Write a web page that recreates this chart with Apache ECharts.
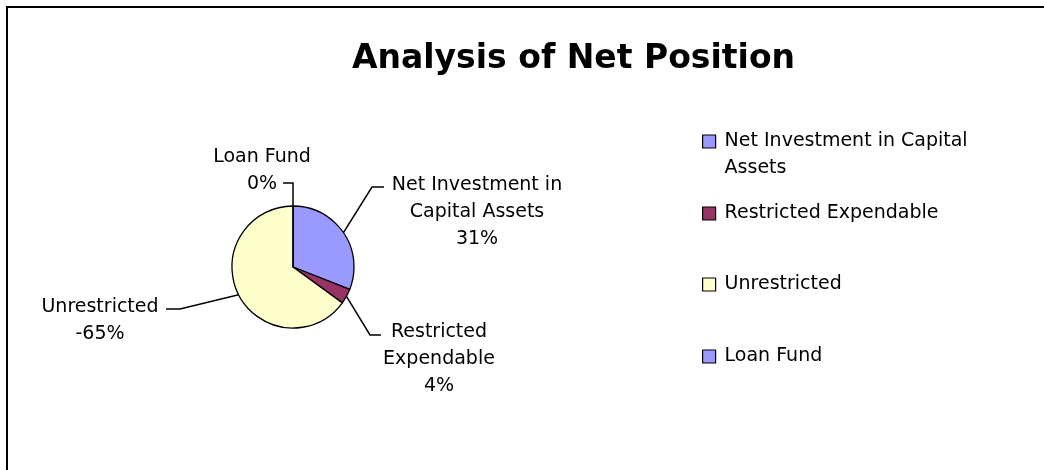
<!DOCTYPE html>
<html>
<head>
<meta charset="utf-8">
<script src="https://cdn.jsdelivr.net/npm/echarts@6/dist/echarts.min.js"></script>
<style>
html, body { margin: 0; padding: 0; background: #fff; }
#pieChart { width: 1044px; height: 470px; }
</style>
</head>
<body>
<div id="pieChart"></div>
<script>
const categories = ['Net Investment in Capital Assets', 'Restricted Expendable', 'Unrestricted', 'Loan Fund']
// share of net position, as printed on the slice labels
const shares = [31, 4, -65, 0]
const labelNames = ['Net Investment in\nCapital Assets', 'Restricted\nExpendable', 'Unrestricted', 'Loan Fund']
// blank first line keeps the legend box centred on the first text line
const legendNames = [' \nNet Investment in Capital\nAssets', 'Restricted Expendable', 'Unrestricted', 'Loan Fund']
const sliceColors = ['#9999FF', '#993366', '#FFFFCC', '#9999FF']

// label block centres and leader line bends/ends
const labelSpots = [[477, 212], [439, 359], [100, 321], [262, 171]]
const leaderBends = [[372, 187], [370, 335], [180, 309], [293, 183]]
const leaderEnds = [[384, 187], [381, 335], [166, 309], [283, 183]]
const legendTops = [101, 200, 271, 343]

const font = 'DejaVu Sans'

const chart = echarts.init(document.getElementById('pieChart'))

chart.setOption({
  backgroundColor: '#fff',
  animation: false,
  title: {
    text: 'Analysis of Net Position',
    left: 347,
    top: 38,
    textStyle: {
      color: '#000',
      fontFamily: font,
      fontWeight: 'bold',
      fontSize: 33
    }
  },
  graphic: [
    {
      type: 'rect',
      shape: { x: 7, y: 7, width: 1100, height: 500 },
      style: { fill: 'none', stroke: '#000', lineWidth: 2 },
      silent: true
    }
  ],
  legend: categories.map(function (name, i) {
    return {
      data: [name],
      left: 702,
      top: legendTops[i],
      orient: 'vertical',
      padding: 0,
      icon: 'rect',
      itemWidth: 13,
      itemHeight: 13,
      itemGap: 0,
      selectedMode: false,
      itemStyle: { borderColor: '#000', borderWidth: 1.2 },
      formatter: function () { return legendNames[i] },
      textStyle: {
        color: '#000',
        fontFamily: font,
        fontSize: 19,
        lineHeight: 27,
        padding: [0, 0, 0, 4]
      }
    }
  }),
  series: [
    {
      type: 'pie',
      center: [293, 267],
      radius: 61,
      startAngle: 90,
      clockwise: true,
      avoidLabelOverlap: false,
      itemStyle: { borderColor: '#000', borderWidth: 1.3 },
      label: {
        show: true,
        position: 'outside',
        color: '#000',
        fontFamily: font,
        fontSize: 19,
        lineHeight: 27,
        align: 'center',
        formatter: function (p) {
          return labelNames[p.dataIndex] + '\n' + shares[p.dataIndex] + '%'
        }
      },
      labelLine: {
        show: true,
        length: 15,
        length2: 10,
        lineStyle: { color: '#000', width: 1.5 }
      },
      labelLayout: function (params) {
        const i = params.dataIndex
        const p = labelSpots[i]
        const out = { x: p[0], y: p[1], align: 'center', verticalAlign: 'middle' }
        if (params.labelLinePoints) {
          out.labelLinePoints = [params.labelLinePoints[0], leaderBends[i], leaderEnds[i]]
        }
        return out
      },
      data: categories.map(function (name, i) {
        return { name: name, value: Math.abs(shares[i]), itemStyle: { color: sliceColors[i] } }
      })
    }
  ]
})
</script>
</body>
</html>
